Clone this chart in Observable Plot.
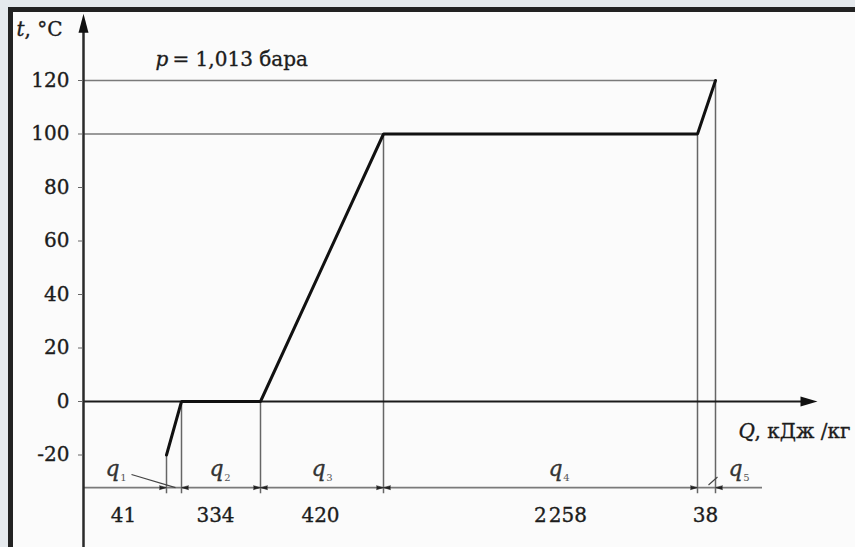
<!DOCTYPE html>
<html>
<head>
<meta charset="utf-8">
<script src="https://cdn.jsdelivr.net/npm/d3@7"></script>
<script src="https://cdn.jsdelivr.net/npm/@observablehq/plot@0.6"></script>
<style>
  html, body { margin: 0; padding: 0; background: #e5e9ed; overflow: hidden; }
  #panel { position: absolute; left: 8px; top: 7px; width: 1000px; height: 1000px; background: #fbfbfb; }
  #chart { position: absolute; left: 0; top: 0; z-index: 1; }
  #border { position: absolute; left: 8px; top: 7px; width: 1000px; height: 1000px;
            border-top: 5px solid #222; border-left: 5px solid #222; z-index: 2; pointer-events: none; box-sizing: border-box; }
</style>
</head>
<body>
<div id="panel"></div>
<div id="chart"></div>
<div id="border"></div>
<script>
// ---- data ----
const qValues = [41, 334, 420, 2258, 38];          // heat per stage, kJ/kg
const qIndex = ["1", "2", "3", "4", "5"];          // subscripts q1..q5
const tempPoints = [-20, 0, 0, 100, 100, 120];     // t, °C at stage boundaries
const tTicks = [-20, 0, 20, 40, 60, 80, 100, 120];
const refTemps = [120, 100];
const pressureText = "= 1,013 бара";

// ---- schematic layout (diagram is not to scale) ----
const startOffset = 83;                              // gap from t-axis to start of curve
const segDraw = [15, 79, 123, 314, 18];              // drawn width of each stage
const xBreaks = [startOffset];
segDraw.forEach(w => xBreaks.push(xBreaks[xBreaks.length - 1] + w));
const xEnd = 734;        // end of Q axis arrow
const tTop = 145;        // tip of t axis arrow
const tBottom = -55;
const dimY = -32.2;      // dimension line level
const dimLow = -34.5;    // bottom of extension lines
const dimEnd = 679;
const qLabelX = [29, 133, 235, 472, 652];
const numLabelX = [40, 132, 237, 477, 622];

const pts = xBreaks.map((x, i) => ({x, t: tempPoints[i]}));
const refs = [{t: refTemps[0], x2: xBreaks[5]}, {t: refTemps[1], x2: xBreaks[3]}];

// arrowheads on dimension line
const dimHeads = [{x: xBreaks[0], rot: 90}, {x: xBreaks[5], rot: -90}];
for (let i = 1; i <= 3; i++) {
  dimHeads.push({x: xBreaks[i], rot: -90});
  dimHeads.push({x: xBreaks[i + 1], rot: 90});
}

const qLabels = qValues.map((v, i) => ({v, idx: qIndex[i], xq: qLabelX[i], xn: numLabelX[i]}));

const serif = "'DejaVu Serif', 'Liberation Serif', serif";
const fs = 20;
const ink = "#1c1c1c";
const txt = {fontSize: fs, fill: ink, stroke: ink, strokeWidth: 0.35, fontFamily: serif, lineAnchor: "bottom"};

const plot = Plot.plot({
  width: 855,
  height: 547,
  marginLeft: 83,
  marginRight: 38,
  marginTop: 80,
  marginBottom: 92.5,
  style: {background: "transparent", fontFamily: serif, color: ink, overflow: "visible"},
  x: {domain: [0, xEnd], axis: null},
  y: {domain: [-20, 120], axis: null},
  marks: [
    // reference lines
    Plot.ruleY(refs, {y: "t", x1: 0, x2: "x2", stroke: "#7a7a7a", strokeWidth: 1.6}),
    // extension lines
    Plot.ruleX(pts, {x: "x", y1: "t", y2: dimLow, stroke: "#666", strokeWidth: 1.5}),
    // dimension line
    Plot.ruleY([dimY], {x1: 0, x2: dimEnd, stroke: "#7a7a7a", strokeWidth: 1.6}),
    Plot.vector(dimHeads, {x: "x", y: dimY, rotate: "rot", length: 7, r: 2, shape: "spike", anchor: "end", fill: "#222", stroke: "#222", strokeWidth: 0.5}),
    // axes
    Plot.ruleY([0], {x1: 0, x2: xEnd - 12, stroke: "#1a1a1a", strokeWidth: 2.2}),
    Plot.ruleX([0], {y1: tBottom, y2: tTop - 5, stroke: "#2a2a2a", strokeWidth: 2.5}),
    Plot.vector([{x: xEnd, t: 0}], {x: "x", y: "t", rotate: 90, length: 17, r: 5, shape: "spike", anchor: "end", fill: "#111", stroke: "none"}),
    Plot.vector([{x: 0, t: tTop}], {x: "x", y: "t", rotate: 0, length: 19, r: 5, shape: "spike", anchor: "end", fill: "#111", stroke: "none"}),
    Plot.axisY({ticks: tTicks, tickSize: 5, tickPadding: 9, tickFormat: d => String(d), fontSize: fs, stroke: "#666", fill: ink, fontFamily: serif}),
    Plot.text(tTicks, {x: 0, y: d => d, text: d => String(d), textAnchor: "end", dx: -14, fontSize: fs, fill: "none", stroke: ink, strokeWidth: 0.35, fontFamily: serif}),
    // heating curve
    Plot.line(pts, {x: "x", y: "t", stroke: "#111", strokeWidth: 3, strokeLinejoin: "miter"}),
    // q labels
    Plot.text(qLabels, {...txt, x: "xq", y: -27.7, text: () => "q", fontStyle: "italic", fontSize: 22, fill: "#333", stroke: "#333"}),
    Plot.text(qLabels, {x: "xq", y: -27.7, text: "idx", fontSize: 10, dx: 11, dy: 5, lineAnchor: "bottom", fill: "#555", fontFamily: serif}),
    Plot.text(qLabels, {...txt, x: "xn", y: -45.2, text: d => d.v >= 1000 ? String(d.v)[0] + "\u200A" + String(d.v).slice(1) : String(d.v)}),
    // leaders for q1 and q5
    Plot.link([{x1: 48, y1: -27.3, x2: 92, y2: -32.2}, {x1: 625, y1: -31.2, x2: 634, y2: -28.2}],
      {x1: "x1", y1: "y1", x2: "x2", y2: "y2", stroke: "#444", strokeWidth: 1.2}),
    // annotations
    Plot.text([0], {...txt, x: 72, y: 125.6, text: () => "p", fontStyle: "italic", textAnchor: "start"}),
    Plot.text([0], {...txt, x: 89, y: 125.6, text: () => pressureText, textAnchor: "start"}),
    Plot.text([0], {...txt, x: -59, y: 136.8, text: () => "t", fontStyle: "italic", textAnchor: "end"}),
    Plot.text([0], {...txt, x: -59, y: 136.8, text: () => ", °C", textAnchor: "start"}),
    Plot.text([0], {...txt, x: 655, y: -13.8, text: () => "Q", fontStyle: "italic", textAnchor: "start"}),
    Plot.text([0], {...txt, x: 671, y: -13.8, text: () => ", кДж /кг", textAnchor: "start"})
  ]
});
document.getElementById("chart").appendChild(plot);
</script>
</body>
</html>
